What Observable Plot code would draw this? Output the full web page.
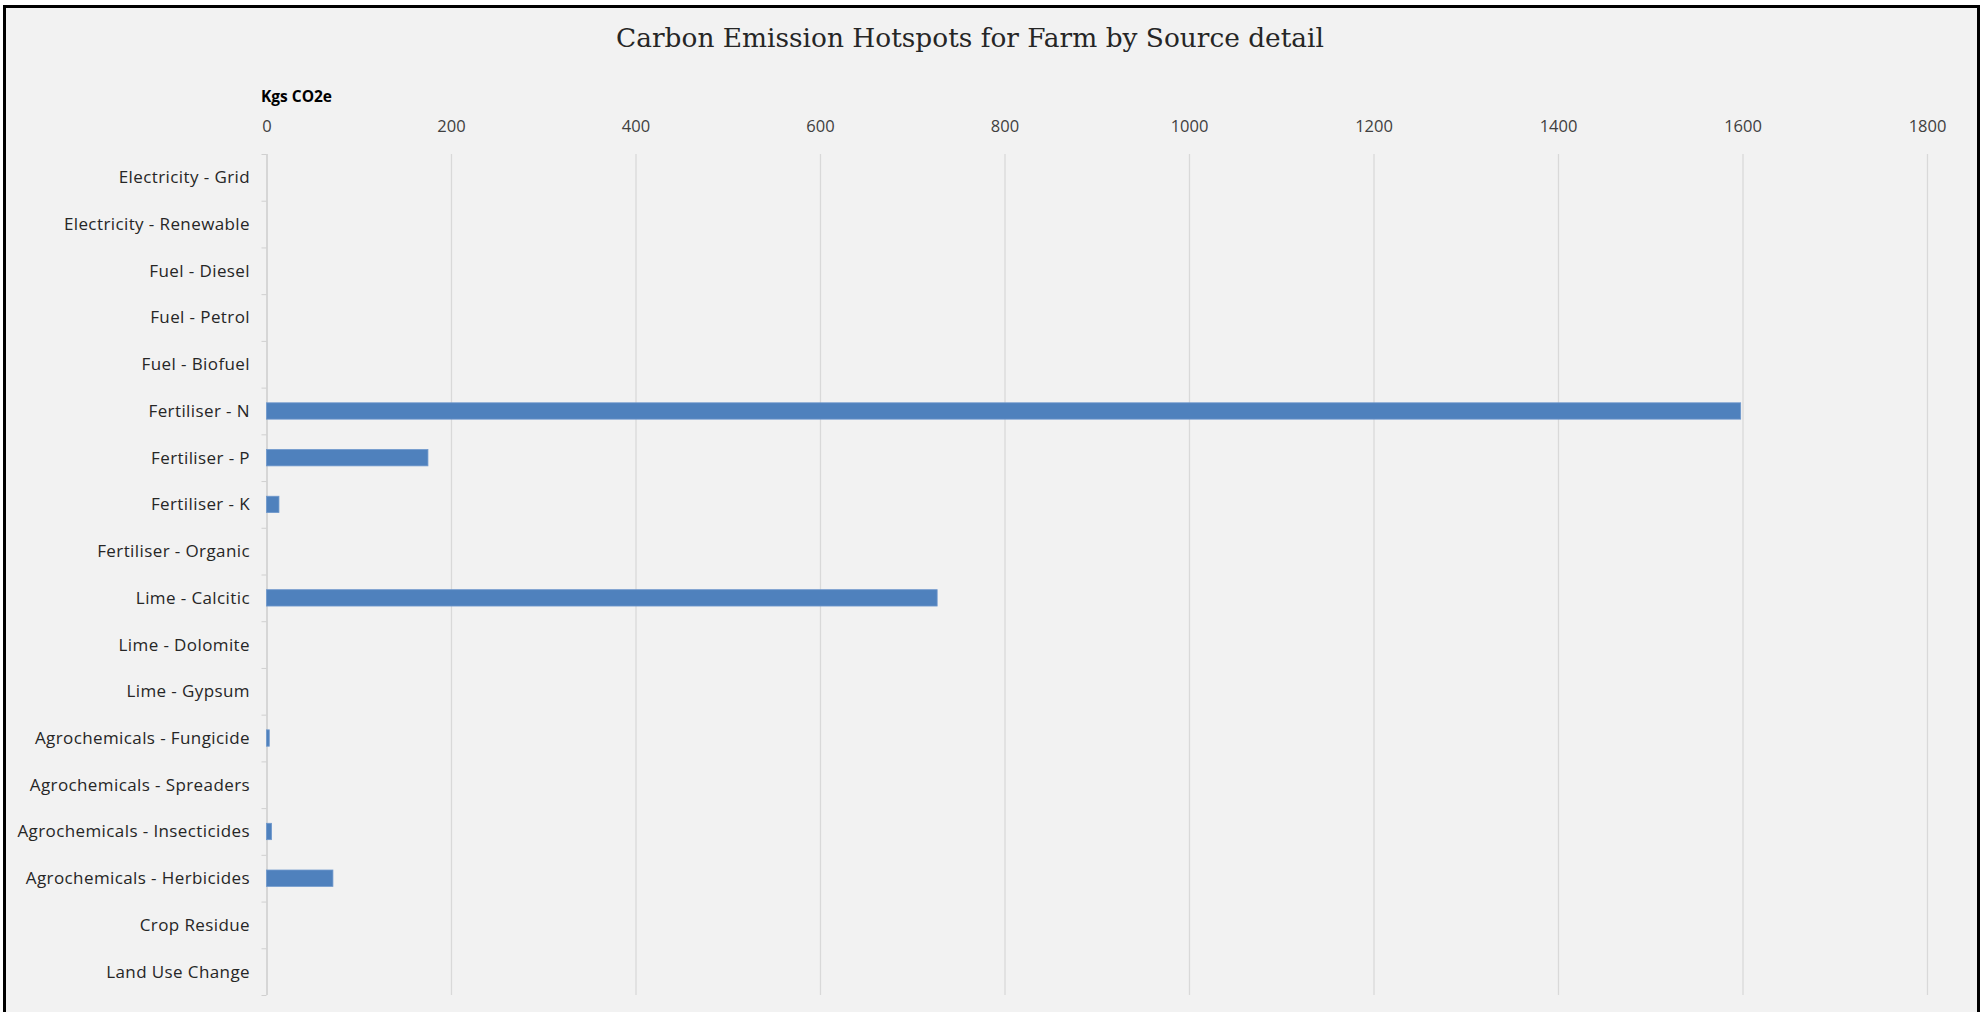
<!DOCTYPE html>
<html>
<head>
<meta charset="utf-8">
<script src="https://cdn.jsdelivr.net/npm/d3@7"></script>
<script src="https://cdn.jsdelivr.net/npm/@observablehq/plot@0.6"></script>
<style>
  html, body { margin: 0; padding: 0; background: #ffffff; width: 1980px; height: 1012px; overflow: hidden; }
  #frame { position: absolute; left: 3px; top: 5px; width: 1971px; height: 1020px; border: 3px solid #000; border-bottom: none; background: #f2f2f2; }
  #title { position: absolute; left: 0; top: 0; width: 1940px; height: 70px; line-height: 76px; text-align: center; font-family: "DejaVu Serif", serif; font-size: 26.4px; color: #262626; }
  #chart { position: absolute; left: 0; top: 70px; }
  #chart svg g[aria-label="y-axis tick label"] text { letter-spacing: 0.4px; }
</style>
</head>
<body>
<div id="frame"></div>
<div id="title">Carbon Emission Hotspots for Farm by Source detail</div>
<div id="chart"></div>
<script>
const categories = [
  "Electricity - Grid",
  "Electricity - Renewable",
  "Fuel - Diesel",
  "Fuel - Petrol",
  "Fuel - Biofuel",
  "Fertiliser - N",
  "Fertiliser - P",
  "Fertiliser - K",
  "Fertiliser - Organic",
  "Lime - Calcitic",
  "Lime - Dolomite",
  "Lime - Gypsum",
  "Agrochemicals - Fungicide",
  "Agrochemicals - Spreaders",
  "Agrochemicals - Insecticides",
  "Agrochemicals - Herbicides",
  "Crop Residue",
  "Land Use Change"
];
const values = [0, 0, 0, 0, 0, 1598, 175, 13.5, 0, 727, 0, 0, 3, 0, 5.5, 72, 0, 0];
const xTicks = [0, 200, 400, 600, 800, 1000, 1200, 1400, 1600, 1800];
const axisLabel = "Kgs CO2e";

const data = categories.map((c, i) => ({source: c, value: values[i]}));

const W = 1980, H = 942;
const mT = 84, mB = 17, mL = 266.5, mR = 53;
const step = (H - mT - mB) / categories.length;

const chart = Plot.plot({
  width: W,
  height: H,
  marginTop: mT,
  marginBottom: mB,
  marginLeft: mL,
  marginRight: mR,
  style: { background: "transparent", fontFamily: "'Open Sans', sans-serif" },
  x: { domain: [0, 1800], axis: null },
  y: { domain: categories, paddingInner: 0.65, paddingOuter: 0.325, round: false, axis: null },
  marks: [
    Plot.gridX(xTicks, { stroke: "#d9d9d9", strokeOpacity: 1, strokeWidth: 1.3 }),
    Plot.axisX(xTicks, { anchor: "top", tickSize: 0, tickPadding: 23, tickFormat: d => String(d), fontSize: 16.5, fill: "#404040", label: null }),
    Plot.text([axisLabel], { frameAnchor: "top-left", dx: -6, dy: -64, textAnchor: "start", fontSize: 15.5, fontWeight: "bold", fill: "#000" }),
    Plot.ruleX([0], { stroke: "#d0d0d0", strokeWidth: 1.3 }),
    Plot.axisY({ anchor: "left", tickSize: 0, tickPadding: 17, fontSize: 17, fill: "#262626", label: null }),
    Plot.axisY({ anchor: "left", tickSize: 5, text: null, stroke: "#d0d0d0", dy: -step / 2, label: null }),
    Plot.axisY([categories[categories.length - 1]], { anchor: "left", tickSize: 5, text: null, stroke: "#d0d0d0", dy: step / 2, label: null }),
    Plot.barX(data, { x: "value", y: "source", fill: "#4f81bd", stroke: "#6f98cc", strokeWidth: 0.8 })
  ]
});
chart.querySelectorAll("text").forEach(t => {
  if (categories.includes(t.textContent)) t.style.letterSpacing = "0.4px";
});
document.getElementById("chart").appendChild(chart);
</script>
</body>
</html>
